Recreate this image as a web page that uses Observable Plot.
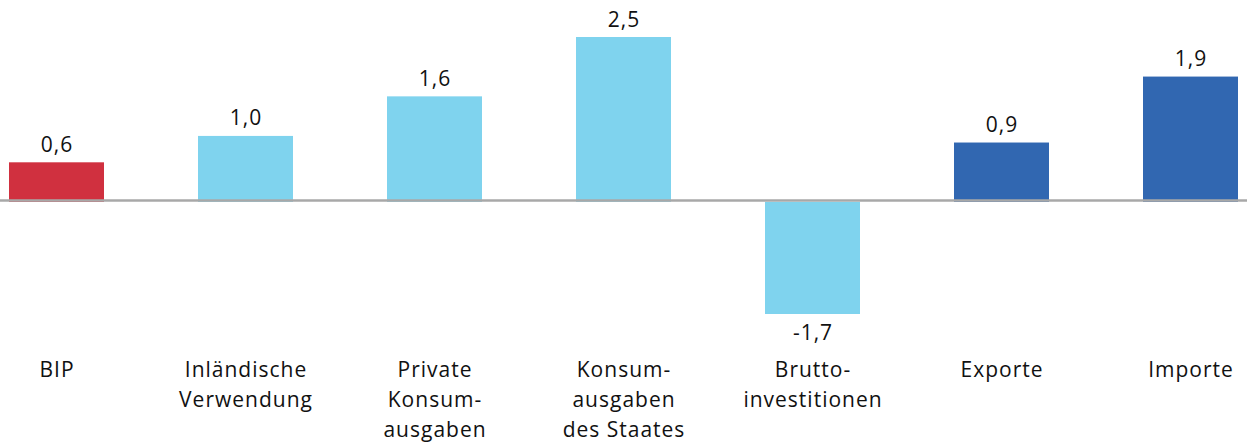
<!DOCTYPE html>
<html>
<head>
<meta charset="utf-8">
<script src="https://cdn.jsdelivr.net/npm/d3@7"></script>
<script src="https://cdn.jsdelivr.net/npm/@observablehq/plot@0.6"></script>
<style>
  html, body { margin: 0; padding: 0; background: #fff; }
  #chart { width: 1247px; height: 448px; }
  #chart svg text { letter-spacing: 1px; }
</style>
</head>
<body>
<div id="chart"></div>
<script>
const categories = ["BIP", "Inländische\nVerwendung", "Private\nKonsum-\nausgaben", "Konsum-\nausgaben\ndes Staates", "Brutto-\ninvestitionen", "Exporte", "Importe"];
const values = [0.6, 1.0, 1.6, 2.5, -1.7, 0.9, 1.9];
const groups = ["bip", "inland", "inland", "inland", "inland", "aussen", "aussen"];
const groupColors = {bip: "#D0303F", inland: "#7FD3EE", aussen: "#3167B1"};

const data = categories.map((c, i) => ({category: c, value: values[i], group: groups[i]}));
const fmt = v => v.toFixed(1).replace(".", ",");
const font = "'Open Sans', 'Noto Sans', sans-serif";

const chart = Plot.plot({
  width: 1247,
  height: 448,
  marginLeft: 0,
  marginRight: 0,
  marginTop: 20,
  marginBottom: 98,
  style: {fontFamily: font, fontSize: "21px", background: "#fff", color: "#1a1a1a"},
  x: {domain: categories, paddingInner: 0.5, paddingOuter: 0.045, axis: null},
  y: {domain: [-1.7, 2.5], range: [314, 37], axis: null},
  marks: [
    Plot.barY(data, {x: "category", y: "value", fill: d => groupColors[d.group]}),
    Plot.ruleY([0], {stroke: "#A8A8A8", strokeWidth: 2.5, dy: -2}),
    Plot.text(data.filter(d => d.value >= 0), {x: "category", y: "value", text: d => fmt(d.value), lineAnchor: "bottom", dy: -11, fontSize: 21, fill: "#111"}),
    Plot.text(data.filter(d => d.value < 0), {x: "category", y: "value", text: d => fmt(d.value), lineAnchor: "top", dy: 11, fontSize: 21, fill: "#111"}),
    Plot.axisX({domain: categories, anchor: "bottom", tickSize: 0, tickPadding: 5, lineHeight: 1.43, fontSize: 21, fill: "#111", label: null, textOverflow: null})
  ]
});
document.getElementById("chart").appendChild(chart);
</script>
</body>
</html>
